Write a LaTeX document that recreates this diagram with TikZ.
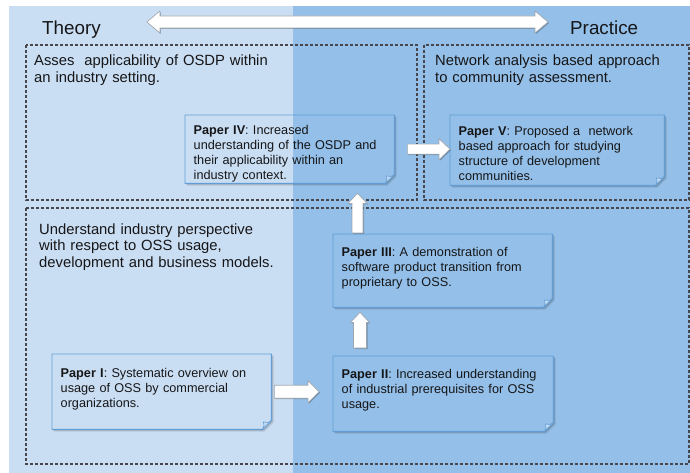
\documentclass[tikz,border=0pt]{standalone}
\usepackage{fontspec}
\setmainfont{Liberation Sans}
\usetikzlibrary{calc,shadows}
\pgfdeclarelayer{bglayer}
\pgfdeclarelayer{shapelayer}
\pgfsetlayers{bglayer,shapelayer,main}
\definecolor{bgL}{RGB}{202,222,243}
\definecolor{bgR}{RGB}{147,191,232}
\definecolor{edgec}{RGB}{98,157,214}
\definecolor{dashc}{RGB}{70,70,76}
\definecolor{txt}{RGB}{22,22,24}
\definecolor{foldc}{RGB}{196,220,243}
\definecolor{arrowedge}{RGB}{160,165,172}
\newcommand\paperpath[2]{($(#1.north west)+(#2,#2)$) -- ($(#1.north east)+(#2,#2)$) -- ($(#1.south east)+(#2,#2-9)$) -- ($(#1.south east)+(#2-9,#2)$) -- ($(#1.south west)+(#2,#2)$) -- cycle}
\newcommand\harrow[5]{\draw[blockarrow] ($(#1)+(0,-#3)$) -- ($(#2)+(-#5,-#3)$) -- ($(#2)+(-#5,-#4)$) -- (#2) -- ($(#2)+(-#5,#4)$) -- ($(#2)+(-#5,#3)$) -- ($(#1)+(0,#3)$) -- cycle;}
\newcommand\uarrow[5]{\draw[blockarrow] ($(#1)+(-#3,0)$) -- ($(#2)+(-#3,#5)$) -- ($(#2)+(-#4,#5)$) -- (#2) -- ($(#2)+(#4,#5)$) -- ($(#2)+(#3,#5)$) -- ($(#1)+(#3,0)$) -- cycle;}
\begin{document}
\begin{tikzpicture}[x=1pt,y=-1pt,
  dashbox/.style={draw=dashc, line width=1.05pt, dash pattern=on 3pt off 2pt},
  header/.style={font=\fontsize{14.8}{16.5}\selectfont, text=txt, align=left, inner sep=0pt, anchor=base west, text width=300pt},
  title/.style={font=\fontsize{18.8}{20}\selectfont, text=txt, inner sep=0pt, anchor=base west},
  paper/.style={anchor=north west, inner xsep=8.5pt, inner ysep=0pt, align=left, font=\fontsize{12.7}{15}\selectfont, text=txt},
  paperedge/.style={draw=edgec, line width=0.9pt, line join=miter},
  blockarrow/.style={fill=white, draw=arrowedge, line width=0.6pt, line join=miter,
     drop shadow={shadow xshift=1pt, shadow yshift=-1pt, opacity=0.25, fill=black}}
]
\useasboundingbox (0,0) rectangle (690,473);
\begin{pgfonlayer}{bglayer}
  \fill[bgL] (9,6) rectangle (293,473);
  \fill[bgR] (293,6) rectangle (690,473);
\end{pgfonlayer}

% dashed regions
\draw[dashbox] (26,45) rectangle (417,200);
\draw[dashbox] (424,45) rectangle (689,200);
\draw[dashbox] (26,208) rectangle (689,464);

% titles and headers
\node[title] (theory) at (42,35) {Theory};
\node[title] (practice) at (570,35) {Practice};
\node[header] (hTL) at (34,66) {Asses\ \ applicability of OSDP within\\an industry setting.};
\node[header] (hTR) at (435,66) {Network analysis based approach\\to community assessment.};
\node[header] (hB) at (39,234) {Understand industry perspective\\with respect to OSS usage,\\development and business models.};

% papers
\node[paper, text width=202pt, text height=23pt, text depth=52pt] (p1) at (52,354)
  {\textbf{Paper I}: Systematic overview on\\usage of OSS by commercial\\organizations.};
\node[paper, text width=203pt, text height=22.3pt, text depth=52.7pt] (p2) at (333,356)
  {\textbf{Paper II}: Increased understanding\\of industrial prerequisites for OSS\\usage.};
\node[paper, text width=202pt, text height=22.3pt, text depth=50.7pt] (p3) at (333,234)
  {\textbf{Paper III}: A demonstration of\\software product transition from\\proprietary to OSS.};
\node[paper, text width=192pt, text height=19.5pt, text depth=48.5pt] (p4) at (185,115)
  {\textbf{Paper IV}: Increased\\understanding of the OSDP and\\their applicability within an\\industry context.};
\node[paper, text width=197pt, text height=20.5pt, text depth=49.5pt] (p5) at (450,115)
  {\textbf{Paper V}: Proposed a\ \ network\\based approach for studying\\structure of development\\communities.};

% paper shapes
\begin{pgfonlayer}{shapelayer}
\foreach \n in {p1,p2,p3,p4,p5}{
  \fill[black, opacity=0.10] \paperpath{\n}{2.2};
  \fill[black, opacity=0.14] \paperpath{\n}{1.2};
  \begin{scope}
    \clip \paperpath{\n}{0};
    \fill[bgL] (9,6) rectangle (293,473);
    \fill[bgR] (293,6) rectangle (690,473);
  \end{scope}
  \draw[paperedge] \paperpath{\n}{0};
  \filldraw[fill=foldc, draw=edgec, line width=0.6pt]
    ($(\n.south east)+(0,-9)$) .. controls ($(\n.south east)+(-3,-6)$) and ($(\n.south east)+(-6,-7)$) .. ($(\n.south east)+(-8,-7.5)$)
    .. controls ($(\n.south east)+(-7,-4)$) .. ($(\n.south east)+(-9,0)$) -- cycle;
}
\end{pgfonlayer}

% arrows
\coordinate (dl) at ($(theory.base east)+(46,-13)$);
\coordinate (dr) at ($(practice.base west)+(-22,-13)$);
\draw[blockarrow] (dl) -- ($(dl)+(13,-11)$) -- ($(dl)+(13,-6)$) -- ($(dr)+(-13,-6)$) -- ($(dr)+(-13,-11)$) -- (dr)
  -- ($(dr)+(-13,11)$) -- ($(dr)+(-13,6)$) -- ($(dl)+(13,6)$) -- ($(dl)+(13,11)$) -- cycle;

\coordinate (t12) at ($(p1.east)+(3,0)$);
\coordinate (h12) at ($(p2.west |- t12)+(-14,0)$);
\harrow{t12}{h12}{6.5}{11}{11}

\coordinate (t23) at ($(p2.north west)+(27,-8)$);
\coordinate (h23) at ($(t23 |- p3.south)+(0,5)$);
\uarrow{t23}{h23}{6.5}{9.5}{10}

\coordinate (t34) at ($(p3.north west)+(24.5,-1)$);
\coordinate (h34) at ($(t34 |- p4.south)+(0,10)$);
\uarrow{t34}{h34}{5.5}{9.5}{10}

\coordinate (t45) at ($(p4.east)+(13,0)$);
\coordinate (h45) at (p5.west |- t45);
\harrow{t45}{h45}{5}{10.5}{11}
\end{tikzpicture}
\end{document}
